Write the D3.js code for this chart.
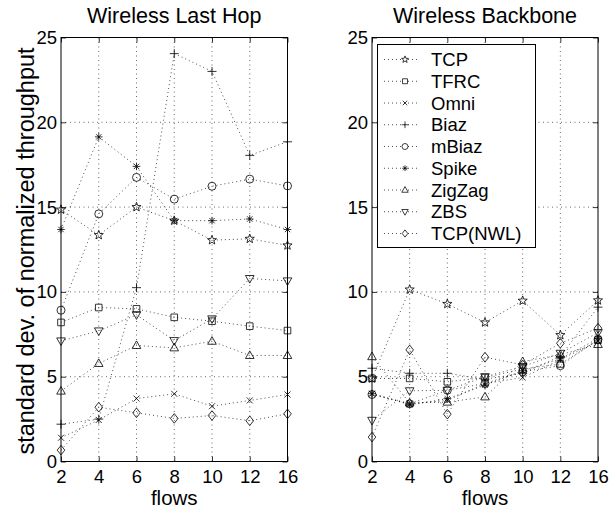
<!DOCTYPE html>
<html>
<head>
<meta charset="utf-8">
<script src="https://cdn.jsdelivr.net/npm/d3@7"></script>
<style>
  body { margin: 0; background: #fff; }
  text { font-family: "Liberation Sans", Arial, sans-serif; fill: #000; }
</style>
</head>
<body>
<svg width="616" height="508"></svg>
<script>
// data
let flows = ["2", "4", "6", "8", "10", "12", "16"]
let protocols = ["TCP", "TFRC", "Omni", "Biaz", "mBiaz", "Spike", "ZigZag", "ZBS", "TCP(NWL)"]
let yTicks = [0, 5, 10, 15, 20, 25]

let lastHopTCP     = [14.85, 13.35, 15.0, 14.2, 13.05, 13.13, 12.74]
let lastHopTFRC    = [8.2, 9.08, 9.0, 8.5, 8.27, 7.98, 7.72]
let lastHopOmni    = [1.4, 2.45, 3.71, 3.99, 3.26, 3.6, 3.95]
let lastHopBiaz    = [2.2, 2.5, 10.25, 24.05, 23.0, 18.05, 18.85]
let lastHopMBiaz   = [8.92, 14.6, 16.75, 15.47, 16.23, 16.65, 16.25]
let lastHopSpike   = [13.68, 19.14, 17.4, 14.2, 14.2, 14.3, 13.68]
let lastHopZigZag  = [4.15, 5.78, 6.84, 6.7, 7.09, 6.25, 6.25]
let lastHopZBS     = [7.11, 7.7, 8.65, 7.13, 8.41, 10.79, 10.65]
let lastHopTCPNWL  = [0.67, 3.2, 2.87, 2.54, 2.71, 2.4, 2.81]

let backboneTCP    = [4.9, 10.14, 9.29, 8.2, 9.48, 7.45, 9.5]
let backboneTFRC   = [4.9, 4.9, 4.7, 4.95, 5.45, 5.75, 7.15]
let backboneOmni   = [4.0, 3.4, 3.6, 4.6, 4.95, 6.0, 7.1]
let backboneBiaz   = [5.5, 5.2, 5.2, 4.85, 5.2, 6.2, 9.1]
let backboneMBiaz  = [3.95, 3.4, 4.2, 4.6, 5.3, 5.65, 7.2]
let backboneSpike  = [4.0, 3.35, 3.7, 4.5, 5.35, 6.05, 7.25]
let backboneZigZag = [6.18, 3.45, 3.5, 3.81, 5.89, 6.3, 6.9]
let backboneZBS    = [2.43, 4.17, 4.2, 5.0, 5.6, 6.38, 7.6]
let backboneTCPNWL = [1.44, 6.58, 2.79, 6.15, 5.7, 6.97, 7.86]

let lastHop = [lastHopTCP, lastHopTFRC, lastHopOmni, lastHopBiaz, lastHopMBiaz,
               lastHopSpike, lastHopZigZag, lastHopZBS, lastHopTCPNWL]
let backbone = [backboneTCP, backboneTFRC, backboneOmni, backboneBiaz, backboneMBiaz,
                backboneSpike, backboneZigZag, backboneZBS, backboneTCPNWL]

let svg = d3.select("svg")
let plotTop = 37.5, plotBottom = 461.5

// matlab-ish marker shapes, centered on 0,0
function starPath(R, r){
  let p = []
  for (let i = 0; i < 10; i++){
    let a = -Math.PI / 2 + i * Math.PI / 5
    let rr = i % 2 ? r : R
    p.push([rr * Math.cos(a), rr * Math.sin(a)])
  }
  return "M" + p.map(d=>d[0].toFixed(2) + "," + d[1].toFixed(2)).join("L") + "Z"
}
let markerPath = {
  "TCP": starPath(4.8, 2.0),
  "TFRC": "M-3.3,-3.3H3.3V3.3H-3.3Z",
  "Omni": "M-3,-3L3,3M-3,3L3,-3",
  "Biaz": "M-4.5,0H4.5M0,-4.5V4.5",
  "mBiaz": d3.symbol(d3.symbolCircle, Math.PI * 16)(),
  "Spike": "M-3.8,0H3.8M0,-3.8V3.8M-2.7,-2.7L2.7,2.7M-2.7,2.7L2.7,-2.7",
  "ZigZag": "M0,-4.6L4.3,3L-4.3,3Z",
  "ZBS": "M0,4.6L4.3,-3L-4.3,-3Z",
  "TCP(NWL)": "M0,-4.8L3.8,0L0,4.8L-3.8,0Z"
}

function drawPanel(title, series, x0, x1){
  let x = d3.scalePoint().domain(flows).range([x0, x1])
  let y = d3.scaleLinear().domain([0, 25]).range([plotBottom, plotTop])
  let g = svg.append("g")

  // grid
  g.selectAll(".vgrid").data(flows.slice(1, -1)).enter().append("line")
    .attr("x1", d=>x(d)).attr("x2", d=>x(d))
    .attr("y1", plotTop).attr("y2", plotBottom)
    .attr("stroke", "#000").attr("stroke-width", 0.6).attr("stroke-dasharray", "1,3.5")
  g.selectAll(".hgrid").data(yTicks.slice(1, -1)).enter().append("line")
    .attr("x1", x0).attr("x2", x1)
    .attr("y1", d=>y(d)).attr("y2", d=>y(d))
    .attr("stroke", "#000").attr("stroke-width", 0.6).attr("stroke-dasharray", "1,3.5")

  // inward ticks on all four sides
  g.append("g").attr("transform", "translate(0," + plotBottom + ")")
    .call(d3.axisBottom(x).tickSize(-5).tickPadding(8))
  g.append("g").attr("transform", "translate(0," + plotTop + ")")
    .call(d3.axisTop(x).tickSize(-5).tickFormat(""))
  g.append("g").attr("transform", "translate(" + x0 + ",0)")
    .call(d3.axisLeft(y).tickValues(yTicks).tickSize(-5).tickPadding(4))
  g.append("g").attr("transform", "translate(" + x1 + ",0)")
    .call(d3.axisRight(y).tickValues(yTicks).tickSize(-5).tickFormat(""))
  g.selectAll(".domain").remove()
  g.selectAll(".tick line").attr("stroke", "#000").attr("stroke-width", 0.8)
  g.selectAll(".tick text").attr("font-size", 18.5)
    .attr("font-family", "'Liberation Sans', Arial, sans-serif")

  g.append("rect")
    .attr("x", x0).attr("y", plotTop)
    .attr("width", x1 - x0).attr("height", plotBottom - plotTop)
    .attr("fill", "none").attr("stroke", "#000").attr("stroke-width", 1)

  let line = d3.line().x((d, i)=>x(flows[i])).y(d=>y(d))
  series.forEach((vals, k)=>{
    g.append("path")
      .attr("d", line(vals))
      .attr("fill", "none").attr("stroke", "#000")
      .attr("stroke-width", 0.7).attr("stroke-dasharray", "1,3")
    g.selectAll(".m" + k).data(vals).enter().append("path")
      .attr("transform", (d, i)=>"translate(" + x(flows[i]) + "," + y(d) + ")")
      .attr("d", markerPath[protocols[k]])
      .attr("fill", "none").attr("stroke", "#000").attr("stroke-width", 0.8)
  })

  g.append("text")
    .attr("x", (x0 + x1) / 2).attr("y", 23)
    .attr("text-anchor", "middle").attr("font-size", 21.5)
    .text(title)
  g.append("text")
    .attr("x", (x0 + x1) / 2).attr("y", 505)
    .attr("text-anchor", "middle").attr("font-size", 20.5)
    .text("flows")
}

drawPanel("Wireless Last Hop", lastHop, 61, 287.5)
drawPanel("Wireless Backbone", backbone, 372, 598)

svg.append("text")
  .attr("transform", "translate(34,251) rotate(-90)")
  .attr("text-anchor", "middle").attr("font-size", 23.5)
  .text("standard dev. of normalized throughput")

// legend
let lg = svg.append("g")
lg.append("rect")
  .attr("x", 377.5).attr("y", 44.5).attr("width", 158).attr("height", 203)
  .attr("fill", "#fff").attr("stroke", "#000").attr("stroke-width", 1)
protocols.forEach((p, i)=>{
  let yy = 59.5 + i * 21.75
  lg.append("line")
    .attr("x1", 384).attr("x2", 418).attr("y1", yy).attr("y2", yy)
    .attr("stroke", "#000").attr("stroke-width", 0.7).attr("stroke-dasharray", "1,3")
  lg.append("path")
    .attr("transform", "translate(405," + yy + ") scale(0.75)")
    .attr("d", markerPath[p])
    .attr("fill", "#fff").attr("stroke", "#000").attr("stroke-width", 1)
  lg.append("text")
    .attr("x", 431).attr("y", yy + 6.5)
    .attr("font-size", 18.5)
    .text(p)
})
</script>
</body>
</html>
